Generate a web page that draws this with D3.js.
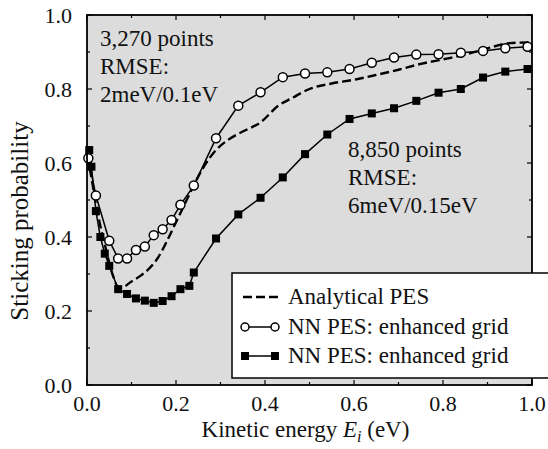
<!DOCTYPE html>
<html><head><meta charset="utf-8"><script src="https://cdn.jsdelivr.net/npm/d3@7"></script></head>
<body style="margin:0">
<svg id="chart" width="548" height="449"></svg>
<script>
// Analytical PES (dashed)
const analyticE = [0, 0.01, 0.02, 0.03, 0.04, 0.05, 0.06, 0.07, 0.08, 0.10, 0.12, 0.14, 0.16, 0.18, 0.20, 0.22, 0.24, 0.26, 0.29, 0.32, 0.35, 0.39, 0.43, 0.46, 0.50, 0.55, 0.60, 0.65, 0.70, 0.75, 0.80, 0.85, 0.90, 0.95, 1.00];
const analyticP = [0.62, 0.56, 0.49, 0.43, 0.38, 0.33, 0.29, 0.265, 0.265, 0.28, 0.295, 0.315, 0.345, 0.39, 0.44, 0.49, 0.54, 0.585, 0.635, 0.665, 0.685, 0.71, 0.755, 0.775, 0.80, 0.815, 0.825, 0.838, 0.852, 0.868, 0.88, 0.893, 0.91, 0.924, 0.926];

// NN PES, 3,270 points (open circles)
const circleE = [0.003, 0.02, 0.05, 0.07, 0.09, 0.11, 0.13, 0.15, 0.17, 0.19, 0.21, 0.24, 0.29, 0.34, 0.39, 0.44, 0.49, 0.54, 0.59, 0.64, 0.69, 0.74, 0.79, 0.84, 0.89, 0.94, 0.99];
const circleP = [0.613, 0.512, 0.39, 0.342, 0.342, 0.365, 0.374, 0.405, 0.421, 0.446, 0.487, 0.539, 0.667, 0.755, 0.791, 0.832, 0.842, 0.845, 0.854, 0.871, 0.885, 0.893, 0.894, 0.898, 0.903, 0.91, 0.914];

// NN PES, 8,850 points (filled squares)
const squareE = [0.005, 0.01, 0.02, 0.03, 0.04, 0.05, 0.07, 0.09, 0.11, 0.13, 0.15, 0.17, 0.19, 0.21, 0.23, 0.24, 0.29, 0.34, 0.39, 0.44, 0.49, 0.54, 0.59, 0.64, 0.69, 0.74, 0.79, 0.84, 0.89, 0.94, 0.99];
const squareP = [0.635, 0.59, 0.47, 0.40, 0.355, 0.322, 0.259, 0.246, 0.234, 0.228, 0.222, 0.227, 0.24, 0.259, 0.268, 0.304, 0.396, 0.461, 0.506, 0.561, 0.624, 0.677, 0.719, 0.734, 0.748, 0.768, 0.79, 0.80, 0.831, 0.847, 0.854];

const xTicks = [0, 0.2, 0.4, 0.6, 0.8, 1.0];
const yTicks = [0, 0.2, 0.4, 0.6, 0.8, 1.0];
const legendLabels = ["Analytical PES", "NN PES: enhanced grid", "NN PES: enhanced grid"];

const svg = d3.select('#chart');
const margin = { top: 15, right: 16, bottom: 64, left: 87 };
const width = 548 - margin.left - margin.right;
const height = 449 - margin.top - margin.bottom;
const fs = 23;

// every text gets the serif face inline
function label(sel, size) {
  return sel.style('font-family', '"Liberation Serif"').attr('font-size', size).attr('fill', '#111');
}

const x = d3.scaleLinear().domain([0, 1]).range([0, width]);
const y = d3.scaleLinear().domain([0, 1]).range([height, 0]);

const g = svg.append('g').attr('transform', `translate(${margin.left},${margin.top})`);

// Plot background
g.append('rect')
  .attr('width', width)
  .attr('height', height)
  .attr('fill', '#dcdcdc');

// Ticks, inward on all four sides
const minorX = d3.range(0.1, 1, 0.2);
const minorY = d3.range(0.1, 1, 0.2);
const tickG = g.append('g').attr('stroke', '#000').attr('stroke-width', 1.2);
xTicks.concat(minorX).forEach(v => {
  const len = xTicks.includes(v) ? 5 : 3;
  tickG.append('line').attr('x1', x(v)).attr('x2', x(v)).attr('y1', height).attr('y2', height - len);
  tickG.append('line').attr('x1', x(v)).attr('x2', x(v)).attr('y1', 0).attr('y2', len);
});
yTicks.concat(minorY).forEach(v => {
  const len = yTicks.includes(v) ? 5 : 3;
  tickG.append('line').attr('y1', y(v)).attr('y2', y(v)).attr('x1', 0).attr('x2', len);
  tickG.append('line').attr('y1', y(v)).attr('y2', y(v)).attr('x1', width).attr('x2', width - len);
});

// Tick labels
label(g.selectAll('.xlab').data(xTicks).enter().append('text'), 22)
  .attr('x', d => x(d))
  .attr('y', height + 26)
  .attr('text-anchor', 'middle')
  .text(d3.format('.1f'));

label(g.selectAll('.ylab').data(yTicks).enter().append('text'), 22)
  .attr('x', -15)
  .attr('y', d => y(d) + 8)
  .attr('text-anchor', 'end')
  .text(d3.format('.1f'));

// Axis titles
const xt = label(g.append('text'), fs)
  .attr('x', width / 2 - 4)
  .attr('y', height + 52)
  .attr('text-anchor', 'middle');
xt.append('tspan').text('Kinetic energy ');
xt.append('tspan').attr('font-style', 'italic').text('E');
xt.append('tspan').attr('font-style', 'italic').attr('font-size', fs * 0.7).attr('dy', 5).text('i');
xt.append('tspan').attr('dy', -5).text(' (eV)');

label(svg.append('text'), 25)
  .attr('transform', `translate(28,${221}) rotate(-90)`)
  .attr('text-anchor', 'middle')
  .text('Sticking probability');

// Series
const lineA = d3.line().x((d, i) => x(analyticE[i])).y(d => y(d)).curve(d3.curveMonotoneX);
g.append('path')
  .attr('d', lineA(analyticP))
  .attr('fill', 'none')
  .attr('stroke', '#000')
  .attr('stroke-width', 2.4)
  .attr('stroke-dasharray', '9,4');

const lineC = d3.line().x((d, i) => x(circleE[i])).y(d => y(d));
g.append('path')
  .attr('d', lineC(circleP))
  .attr('fill', 'none')
  .attr('stroke', '#000')
  .attr('stroke-width', 1.5);

const lineS = d3.line().x((d, i) => x(squareE[i])).y(d => y(d));
g.append('path')
  .attr('d', lineS(squareP))
  .attr('fill', 'none')
  .attr('stroke', '#000')
  .attr('stroke-width', 1.5);

g.selectAll('.sq').data(squareP).enter().append('rect')
  .attr('x', (d, i) => x(squareE[i]) - 4)
  .attr('y', d => y(d) - 4)
  .attr('width', 8)
  .attr('height', 8)
  .attr('fill', '#000');

g.selectAll('.ci').data(circleP).enter().append('circle')
  .attr('cx', (d, i) => x(circleE[i]))
  .attr('cy', d => y(d))
  .attr('r', 4.5)
  .attr('fill', '#fff')
  .attr('stroke', '#000')
  .attr('stroke-width', 1.5);

// Frame
g.append('rect')
  .attr('width', width)
  .attr('height', height)
  .attr('fill', 'none')
  .attr('stroke', '#000')
  .attr('stroke-width', 1.8);

// Annotations
const note1 = ['3,270 points', 'RMSE:', '2meV/0.1eV'];
const note2 = ['8,850 points', 'RMSE:', '6meV/0.15eV'];
note1.forEach((t, i) => {
  label(svg.append('text'), fs).attr('x', 100).attr('y', 46 + i * 28).text(t);
});
note2.forEach((t, i) => {
  label(svg.append('text'), fs).attr('x', 348).attr('y', 157 + i * 28).text(t);
});

// Legend
const lg = svg.append('g');
lg.append('rect')
  .attr('x', 232).attr('y', 273)
  .attr('width', 340).attr('height', 105)
  .attr('fill', '#fff')
  .attr('stroke', '#000')
  .attr('stroke-width', 1.5);

const rowY = [297, 327, 356];
legendLabels.forEach((t, i) => {
  label(lg.append('text'), fs).attr('x', 288).attr('y', rowY[i] + 7).text(t);
});
lg.append('line').attr('x1', 243).attr('x2', 279).attr('y1', rowY[0]).attr('y2', rowY[0])
  .attr('stroke', '#000').attr('stroke-width', 2.4).attr('stroke-dasharray', '9,4');
lg.append('line').attr('x1', 245).attr('x2', 275).attr('y1', rowY[1]).attr('y2', rowY[1])
  .attr('stroke', '#000').attr('stroke-width', 1.5);
[245, 275].forEach(cx => {
  lg.append('circle').attr('cx', cx).attr('cy', rowY[1]).attr('r', 4)
    .attr('fill', '#fff').attr('stroke', '#000').attr('stroke-width', 1.5);
});
lg.append('line').attr('x1', 245).attr('x2', 275).attr('y1', rowY[2]).attr('y2', rowY[2])
  .attr('stroke', '#000').attr('stroke-width', 1.5);
[245, 275].forEach(cx => {
  lg.append('rect').attr('x', cx - 4).attr('y', rowY[2] - 4).attr('width', 8).attr('height', 8)
    .attr('fill', '#000');
});
</script>
</body>
</html>
